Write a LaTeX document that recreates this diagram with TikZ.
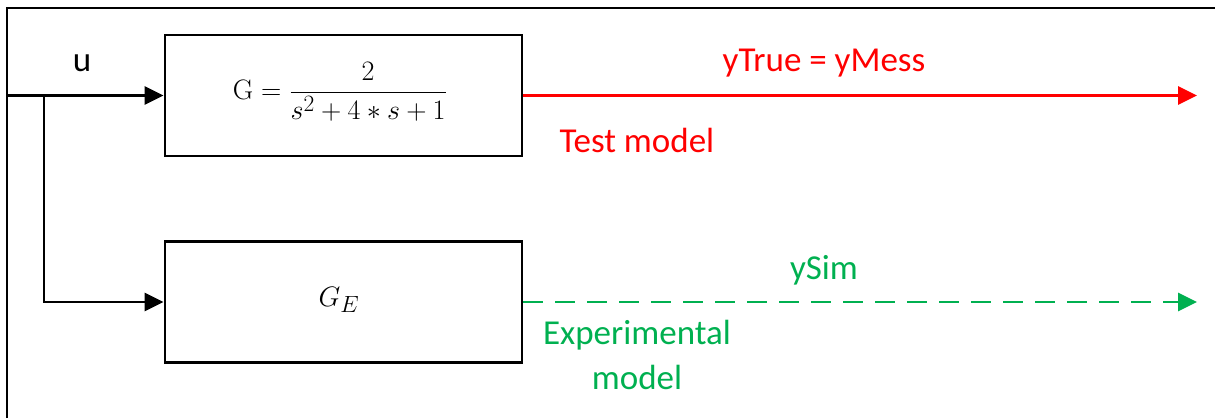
\documentclass[tikz,border=0pt]{standalone}
\usepackage{fontspec}
\usepackage{amsmath}
\usepackage{graphicx}
\newfontfamily\lblfont{Carlito}
\usetikzlibrary{arrows.meta}
\definecolor{sigred}{RGB}{255,0,0}
\definecolor{siggreen}{RGB}{0,176,80}
\tikzset{
  blockbox/.style={draw=black, line width=2.8pt, minimum width=357pt, minimum height=121pt, inner sep=0pt},
  wire/.style={line width=2.8pt},
  tip/.style={-{Triangle[length=19pt,width=18pt]}},
  lbl/.style={font=\lblfont\fontsize{35}{42}\selectfont, inner sep=0pt},
  mathlbl/.style={font=\fontsize{24.88}{30}\selectfont, inner sep=0pt},
}
\begin{document}
\begin{tikzpicture}[x=1pt,y=-1pt]
  \useasboundingbox (0,0) rectangle (1215,418);
  % outer frame (top and left edges)
  \draw[line width=2pt] (7,418) -- (7,8) -- (1215,8);

  % plant and experimental model blocks
  \node[blockbox] (G) at (343.5,95.5) {};
  \node[mathlbl] (Gtxt) at (340,92) {\scalebox{1.13}{$\mathrm{G}=\dfrac{2}{s^2+4*s+1}$}};
  \node[blockbox] (GE) at (343.5,302) {};
  \node[mathlbl] (GEtxt) at (339,300) {\scalebox{1.13}{$G_E$}};

  % input signal and branch
  \coordinate (in) at (7,95.5);
  \coordinate (br) at (44,95.5);
  \draw[wire, tip] (in) -- (G.west);
  \draw[wire, tip] (br) |- (GE.west);
  \node[lbl] (u) at (82,63) {u};

  % outputs
  \coordinate (yt) at (1197,95.5);
  \coordinate (ys) at (1197,302);
  \draw[wire, tip, color=sigred] (G.east) -- (yt);
  \draw[wire, tip, color=siggreen, dash pattern=on 20pt off 12pt] (GE.east) -- (ys);

  \node[lbl, text=sigred] (ytrue) at (824,63) {yTrue = yMess};
  \node[lbl, text=sigred] (test) at (637,140) {Test model};
  \node[lbl, text=siggreen] (ysim) at (824,270) {ySim};
  \node[lbl, text=siggreen, align=center] (exp) at (637,355) {Experimental\\[3pt]model};
\end{tikzpicture}
\end{document}
